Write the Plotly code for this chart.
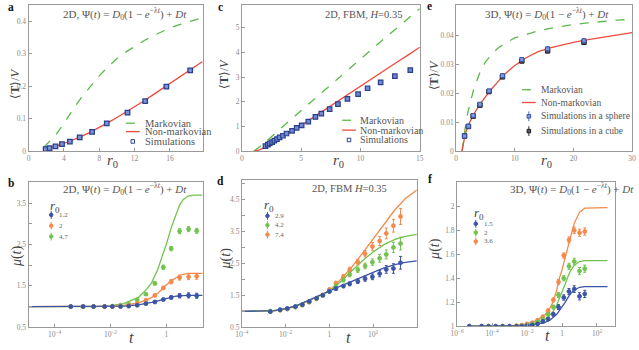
import plotly.graph_objects as go

W, H = 639, 350

# ---------------- data ----------------
# panel a : 2D, Psi(t)=D0(1-e^{-lambda t})+Dt
a_r0_curve = [1.7, 2, 3, 4, 5, 6, 7, 8, 9, 10, 11, 12, 13, 14, 15, 16, 17, 18, 19, 19.7]
a_markov = [0.012, 0.02, 0.048, 0.085, 0.128, 0.166, 0.2, 0.232, 0.26, 0.285, 0.305, 0.323,
            0.339, 0.354, 0.367, 0.379, 0.389, 0.398, 0.405, 0.41]
a_nonmarkov = [0.005, 0.007, 0.015, 0.024, 0.034, 0.046, 0.059, 0.073, 0.088, 0.104, 0.12, 0.137,
               0.154, 0.172, 0.19, 0.208, 0.226, 0.244, 0.262, 0.276]
a_sim_r0 = [1.93, 2.37, 3.04, 3.78, 4.67, 5.78, 7.19, 8.85, 11.2, 13.2, 15.6, 18.3]
a_sim = [0.007, 0.010, 0.015, 0.022, 0.030, 0.043, 0.060, 0.086, 0.119, 0.154, 0.199, 0.249]
a_sim_err = [0.001, 0.001, 0.001, 0.0015, 0.002, 0.002, 0.002, 0.003, 0.004, 0.004, 0.005, 0.005]

# panel c : 2D FBM H=0.35
c_r0_curve = [1, 1.25, 1.5, 2, 2.5, 3, 4, 5, 6, 7, 8, 9, 10, 11, 12, 13, 14, 15]
c_markov = [0, 0.08, 0.18, 0.38, 0.6, 0.81, 1.23, 1.65, 2.07, 2.49, 2.91, 3.33, 3.74, 4.15,
            4.56, 4.96, 5.37, 5.77]
c_nonmarkov = [0, 0.02, 0.06, 0.19, 0.34, 0.5, 0.78, 1.05, 1.37, 1.68, 2.0, 2.31, 2.63, 2.95,
               3.26, 3.58, 3.89, 4.21]
c_sim_r0 = [1.99, 2.19, 2.35, 2.55, 2.74, 2.96, 3.18, 3.46, 3.76, 4.23, 4.62, 5.04, 5.6, 6.2,
            6.7, 7.4, 8.1, 8.9, 9.8, 10.6, 11.7, 12.9, 14.2]
c_sim = [0.21, 0.27, 0.32, 0.37, 0.43, 0.49, 0.56, 0.63, 0.72, 0.83, 0.95, 1.05, 1.2, 1.39,
         1.52, 1.71, 1.91, 2.12, 2.31, 2.55, 2.79, 3.04, 3.28]

# panel e : 3D
e_r0_curve = [1, 1.25, 1.5, 2, 2.5, 3, 4, 5, 6, 7, 8, 9, 10, 12, 14, 16, 18, 20, 22, 24, 26, 28, 30]
e_markov = [0, 0.004, 0.0075, 0.0135, 0.018, 0.0215, 0.027, 0.031, 0.0334, 0.0355, 0.037,
            0.0383, 0.0393, 0.0405, 0.0417, 0.0426, 0.0433, 0.0439, 0.0444, 0.0448, 0.0452,
            0.0455, 0.0457]
e_nonmarkov = [0, 0.003, 0.0055, 0.0088, 0.011, 0.0128, 0.0162, 0.019, 0.0215, 0.0238, 0.0262,
               0.028, 0.0297, 0.0325, 0.0345, 0.0358, 0.0368, 0.0377, 0.0385, 0.0392, 0.0398,
               0.0405, 0.0411]
e_sim_r0 = [1.44, 2.1, 2.9, 4.06, 5.6, 7.9, 11.2, 15.6, 21.8]
e_sphere = [0.0053, 0.0087, 0.0124, 0.0163, 0.0209, 0.0262, 0.0318, 0.0355, 0.0383]
e_sphere_err = [0.0002, 0.0003, 0.0004, 0.0005, 0.0005, 0.0006, 0.0006, 0.0007, 0.0007]
e_cube = [0.0053, 0.0086, 0.0122, 0.0160, 0.0207, 0.0258, 0.0313, 0.0348, 0.0378]
e_cube_err = [0.0002, 0.0003, 0.0004, 0.0005, 0.0005, 0.0006, 0.0006, 0.0007, 0.0007]

# panel b : mu(t), 2D
b_t_curve = [1e-5, 1e-3, 3e-3, 1e-2, 3e-2, 0.1, 0.2, 0.3, 0.5, 0.7, 1, 1.5, 2, 3, 4, 6, 10, 20]
b_curve_12 = [1, 1, 1, 1.003, 1.01, 1.04, 1.07, 1.1, 1.14, 1.17, 1.2, 1.23, 1.245, 1.26, 1.27,
              1.272, 1.272, 1.272]
b_curve_2 = [1, 1, 1, 1.01, 1.03, 1.09, 1.16, 1.22, 1.32, 1.42, 1.52, 1.62, 1.68, 1.75, 1.78,
             1.8, 1.8, 1.8]
b_curve_47 = [1, 1, 1, 1.02, 1.07, 1.22, 1.42, 1.58, 1.9, 2.2, 2.5, 2.9, 3.15, 3.45, 3.58,
              3.67, 3.69, 3.69]
b_t_sim = [3.8e-4, 1.05e-3, 2.5e-3, 6.2e-3, 1.17e-2, 2.3e-2, 4.5e-2, 9.1e-2, 0.186, 0.39,
           0.785, 1.5, 3.0, 6.3, 12.3]
b_sim_12 = [1, 1, 1, 1, 1, 1.0, 1.01, 1.03, 1.07, 1.11, 1.17, 1.22, 1.26, 1.27, 1.26]
b_sim_2 = [1, 1, 1, 1, 1, 1.01, 1.03, 1.07, 1.15, 1.27, 1.45, 1.6, 1.7, 1.72, 1.73]
b_sim_47 = [1, 1, 1, 1, 1.01, 1.03, 1.06, 1.16, 1.3, 1.56, 1.95, 2.4, 2.82, 2.87, 2.83]
b_err_12 = [0.01, 0.01, 0.01, 0.01, 0.01, 0.01, 0.01, 0.02, 0.02, 0.03, 0.03, 0.04, 0.05, 0.06, 0.06]
b_err_2 = [0.01, 0.01, 0.01, 0.01, 0.01, 0.01, 0.02, 0.02, 0.03, 0.03, 0.04, 0.05, 0.06, 0.07, 0.07]
b_err_47 = [0.01, 0.01, 0.01, 0.01, 0.02, 0.02, 0.02, 0.03, 0.03, 0.04, 0.05, 0.05, 0.06, 0.06, 0.06]

# panel d : mu(t), 2D FBM
d_t_curve = [1e-4, 1e-3, 3e-3, 1e-2, 3e-2, 0.1, 0.3, 1, 3, 10, 30, 100, 300, 1000, 3000, 1e4]
d_curve_29 = [1, 1.0, 1.02, 1.08, 1.17, 1.33, 1.48, 1.63, 1.78, 1.93, 2.08, 2.22, 2.35, 2.46, 2.53, 2.58]
d_curve_42 = [1, 1.0, 1.02, 1.08, 1.17, 1.33, 1.48, 1.63, 1.9, 2.24, 2.56, 2.86, 3.08, 3.25, 3.35, 3.41]
d_curve_74 = [1, 1.0, 1.015, 1.07, 1.16, 1.31, 1.47, 1.63, 1.97, 2.36, 2.78, 3.27, 3.73, 4.18, 4.53, 4.8]
d_t_sim = [2e-3, 5.6e-3, 1.2e-2, 2.8e-2, 5.8e-2, 0.12, 0.26, 0.5, 1, 2, 4.4, 8.5, 20, 43, 93,
           200, 400, 850, 1800]
d_sim_29 = [0.99, 1.05, 1.09, 1.15, 1.21, 1.31, 1.41, 1.5, 1.62, 1.71, 1.79, 1.86, 1.94, 2.02,
            2.08, 2.18, 2.31, 2.34, 2.52]
d_sim_42 = [1.0, 1.04, 1.08, 1.14, 1.2, 1.3, 1.4, 1.5, 1.63, 1.79, 1.98, 2.15, 2.3, 2.42, 2.54,
            2.66, 2.78, 3.0, 3.12]
d_sim_74 = [1.0, 1.03, 1.07, 1.13, 1.19, 1.28, 1.39, 1.51, 1.68, 1.88, 2.08, 2.3, 2.54, 2.8,
            3.03, 3.2, 3.44, 3.68, 3.97]
d_err_29 = [0.02, 0.02, 0.02, 0.03, 0.03, 0.03, 0.03, 0.04, 0.04, 0.05, 0.05, 0.06, 0.07, 0.08,
            0.09, 0.1, 0.12, 0.15, 0.2]
d_err_42 = [0.02, 0.02, 0.02, 0.03, 0.03, 0.03, 0.03, 0.04, 0.04, 0.05, 0.06, 0.07, 0.08, 0.09,
            0.1, 0.12, 0.14, 0.16, 0.2]
d_err_74 = [0.02, 0.02, 0.02, 0.03, 0.03, 0.03, 0.03, 0.04, 0.05, 0.06, 0.07, 0.08, 0.09, 0.1,
            0.12, 0.14, 0.17, 0.2, 0.25]

# panel f : mu(t), 3D
f_t_curve = [5e-6, 1e-3, 1e-2, 3e-2, 0.1, 0.2, 0.3, 0.5, 0.7, 1, 1.5, 2, 3, 5, 10, 20, 400]
f_curve_15 = [1, 1, 1.005, 1.015, 1.03, 1.05, 1.07, 1.1, 1.13, 1.16, 1.2, 1.23, 1.27, 1.3,
              1.325, 1.33, 1.33]
f_curve_2 = [1, 1, 1.01, 1.025, 1.05, 1.09, 1.12, 1.18, 1.23, 1.28, 1.35, 1.4, 1.46, 1.51,
             1.54, 1.547, 1.547]
f_curve_36 = [1, 1, 1.02, 1.045, 1.09, 1.15, 1.2, 1.3, 1.4, 1.47, 1.57, 1.64, 1.75, 1.86,
              1.95, 1.985, 1.99]
f_t_sim = [5e-6, 2.5e-5, 6.3e-5, 1.6e-4, 4e-4, 1e-3, 2.5e-3, 5e-3, 1e-2, 2e-2, 4e-2, 8e-2,
           0.16, 0.32, 0.63, 1.26, 2.5, 5, 10, 20]
f_sim_15 = [1, 1, 1, 1, 1, 1, 1, 1, 1.005, 1.01, 1.02, 1.04, 1.06, 1.1, 1.16, 1.24, 1.29,
            1.31, 1.25, 1.27]
f_sim_2 = [1, 1, 1, 1, 1, 1, 1, 1.005, 1.01, 1.02, 1.035, 1.06, 1.1, 1.16, 1.26, 1.4, 1.5,
           1.54, 1.46, 1.48]
f_sim_36 = [1, 1, 1, 1, 1, 1, 1.005, 1.01, 1.02, 1.03, 1.05, 1.08, 1.13, 1.22, 1.37, 1.59,
            1.72, 1.8, 1.78, 1.79]
f_err = [0.005, 0.005, 0.005, 0.005, 0.005, 0.005, 0.005, 0.006, 0.007, 0.008, 0.01, 0.012,
         0.014, 0.016, 0.02, 0.022, 0.025, 0.028, 0.03, 0.03]

# ---------------- style ----------------
BLUE = '#3b54a5'
ORANGE = '#f4894a'
GREEN = '#72c24e'
MGREEN = '#5cb84a'
RED = '#ea4b3c'
GRAY = '#8a8a8a'
SERIF = 'Liberation Serif, Times New Roman, Tinos, serif'


def px(x):
    return x / W


def py(y):
    return 1 - y / H


fig = go.Figure()


def line(x, y, ax, color, dash='solid', width=1.3):
    fig.add_trace(go.Scatter(x=x, y=y, mode='lines', xaxis='x' + ax, yaxis='y' + ax,
                             line=dict(color=color, width=width, dash=dash),
                             showlegend=False, hoverinfo='skip'))


def pts(x, y, err, ax, color, symbol='circle', size=4, fill=None, lc=None, lw=0.8):
    fig.add_trace(go.Scatter(x=x, y=y, mode='markers', xaxis='x' + ax, yaxis='y' + ax,
                             marker=dict(symbol=symbol, size=size, color=fill or color,
                                         line=dict(color=lc or color, width=lw)),
                             error_y=dict(type='data', array=err, color=color,
                                          thickness=1, width=1.5),
                             showlegend=False, hoverinfo='skip'))


# a
line(a_r0_curve, a_markov, '', MGREEN, 'dash')
line(a_r0_curve, a_nonmarkov, '', RED)
pts(a_sim_r0, a_sim, a_sim_err, '', BLUE, 'square', 4.5, '#7c93d6', '#2c3f8a', 1.3)
# c
line(c_r0_curve, c_markov, '2', MGREEN, 'dash')
line(c_r0_curve, c_nonmarkov, '2', RED)
pts(c_sim_r0, c_sim, [0.01] * len(c_sim), '2', BLUE, 'square', 4.5, '#6f88d0', '#2c3f8a', 1.2)
# e
line(e_r0_curve, e_markov, '3', MGREEN, 'dash')
line(e_r0_curve, e_nonmarkov, '3', RED)
pts(e_sim_r0, e_cube, e_cube_err, '3', '#333333', 'square', 4.5, '#555555', '#222222', 1)
pts(e_sim_r0, e_sphere, e_sphere_err, '3', '#4a6cc8', 'square', 4, '#7f9be0', '#3b54a5', 1)
# b
line(b_t_curve, b_curve_47, '4', GREEN)
line(b_t_curve, b_curve_2, '4', ORANGE)
line(b_t_curve, b_curve_12, '4', BLUE)
pts(b_t_sim, b_sim_47, b_err_47, '4', GREEN)
pts(b_t_sim, b_sim_2, b_err_2, '4', ORANGE)
pts(b_t_sim, b_sim_12, b_err_12, '4', BLUE)
# d
line(d_t_curve, d_curve_74, '5', ORANGE)
line(d_t_curve, d_curve_42, '5', GREEN)
line(d_t_curve, d_curve_29, '5', BLUE)
pts(d_t_sim, d_sim_74, d_err_74, '5', ORANGE)
pts(d_t_sim, d_sim_42, d_err_42, '5', GREEN)
pts(d_t_sim, d_sim_29, d_err_29, '5', BLUE)
# f
line(f_t_curve, f_curve_36, '6', ORANGE)
line(f_t_curve, f_curve_2, '6', GREEN)
line(f_t_curve, f_curve_15, '6', BLUE)
pts(f_t_sim, f_sim_36, f_err, '6', ORANGE)
pts(f_t_sim, f_sim_2, f_err, '6', GREEN)
pts(f_t_sim, f_sim_15, f_err, '6', BLUE)

tickfont = dict(family=SERIF, size=7.5, color=GRAY)


def axis(x0, x1, y0, y1, anchor, rng, tickvals, ticktext, log=False, is_x=True):
    d = dict(range=rng, tickvals=tickvals, ticktext=ticktext, showline=True, mirror=True,
             linecolor='#9a9a9a', linewidth=1, ticks='inside', ticklen=3, tickcolor='#9a9a9a',
             showgrid=False, zeroline=False, tickfont=tickfont, anchor=anchor)
    if is_x:
        d['domain'] = [px(x0), px(x1)]
    else:
        d['domain'] = [py(y1), py(y0)]
    if log:
        d['type'] = 'log'
    return d


def sup(n):
    return '10<sup>%s</sup>' % n


mu_b_vals = [0.5, 1, 1.5, 2, 2.5, 3, 3.5, 4]
mu_b_text = ['0.5', '', '1.5', '', '2.5', '', '3.5', '']
mu_d_vals = [0.5, 1, 1.5, 2, 2.5, 3, 3.5, 4, 4.5, 5]
mu_d_text = ['0.5', '', '1.5', '', '2.5', '', '3.5', '', '4.5', '']

TOP = (5, 153.5)
layout_axes = dict(
    xaxis=axis(22, 199, *TOP, 'y', [0, 19.7], [0, 4, 8, 12, 16], ['0', '4', '8', '12', '16']),
    yaxis=axis(22, 199, *TOP, 'x', [0, 0.45], [0, 0.1, 0.2, 0.3, 0.4],
               ['0', '0.1', '0.2', '0.3', '0.4'], is_x=False),
    xaxis2=axis(239, 420, *TOP, 'y2', [0, 15], [0, 5, 10, 15], ['0', '5', '10', '15']),
    yaxis2=axis(239, 420, *TOP, 'x2', [0, 5.92], [0, 1, 2, 3, 4, 5],
                ['0', '1', '2', '3', '4', '5'], is_x=False),
    xaxis3=axis(457, 636, *TOP, 'y3', [0, 30], [0, 10, 20, 30], ['0', '10', '20', '30']),
    yaxis3=axis(457, 636, *TOP, 'x3', [0, 0.0507], [0, 0.01, 0.02, 0.03, 0.04],
                ['0', '0.01', '0.02', '0.03', '0.04'], is_x=False),
    xaxis4=axis(22, 199, 185, 332, 'y4', [-4.93, 1.3], [1e-4, 1e-2, 1],
                [sup('−4'), sup('−2'), '1'], log=True),
    yaxis4=axis(22, 199, 185, 332, 'x4', [0.5, 4.0], mu_b_vals, mu_b_text, is_x=False),
    xaxis5=axis(239, 417, 183, 332, 'y5', [-4, 4], [1e-4, 1e-2, 1, 1e2],
                [sup('−4'), sup('−2'), '1', sup('2')], log=True),
    yaxis5=axis(239, 417, 183, 332, 'x5', [0.5, 5.1], mu_d_vals, mu_d_text, is_x=False),
    xaxis6=axis(458, 619, 185, 331, 'y6', [-6, 3.05], [1e-6, 1e-4, 1e-2, 1, 1e2],
                [sup('−6'), sup('−4'), sup('−2'), '1', sup('2')], log=True),
    yaxis6=axis(458, 619, 185, 331, 'x6', [1, 2.2], [1, 1.2, 1.4, 1.6, 1.8, 2.0],
                ['1', '1.2', '1.4', '1.6', '1.8', '2'], is_x=False),
)

ann = []


def text(t, x, y, size=9, color='#555555', xanchor='center', angle=0):
    ann.append(dict(text=t, x=px(x), y=py(y), xref='paper', yref='paper', showarrow=False,
                    xanchor=xanchor, yanchor='middle', textangle=angle,
                    font=dict(family=SERIF, size=size, color=color)))


shapes = []


def seg(x0, y0, x1, y1, color, dash='solid', width=1.3):
    shapes.append(dict(type='line', xref='paper', yref='paper', x0=px(x0), y0=py(y0),
                       x1=px(x1), y1=py(y1), line=dict(color=color, width=width, dash=dash)))


def dot(x, y, color, r=1.8, square=False, fill=None):
    shapes.append(dict(type='rect' if square else 'circle', xref='paper', yref='paper',
                       x0=px(x - r), x1=px(x + r), y0=py(y + r), y1=py(y - r),
                       line=dict(color=color, width=1), fillcolor=fill or color))


# panel letters
for L, x, y in [('a', 4, 7), ('c', 217, 7), ('e', 430, 6), ('b', 4, 186), ('d', 217, 184),
                ('f', 430, 182)]:
    text('<b>%s</b>' % L, x, y, 11.5, '#111111')

PSI2 = '2D, Ψ(<i>t</i>) = <i>D</i><sub>0</sub>(1 − <i>e</i><sup>−λ<i>t</i></sup>) + <i>Dt</i>'
PSI3 = '3D, Ψ(<i>t</i>) = <i>D</i><sub>0</sub>(1 − <i>e</i><sup>−λ<i>t</i></sup>) + <i>Dt</i>'
text(PSI2, 120, 14, 11)
text('2D, FBM, <i>H</i>=0.35', 363, 15, 10.5)
text(PSI3, 549, 14, 11)
text(PSI2, 120, 192, 11)
text('2D, FBM <i>H</i>=0.35', 348, 191, 10.5)
text(PSI3, 575, 192, 11)

# axis titles
TV = '⟨<b>T</b>⟩/<i>V</i>'
text(TV, 8, 85, 12, '#444444', angle=-90)
text(TV, 221, 75, 12, '#444444', angle=-90)
text(TV, 434, 77, 12, '#444444', angle=-90)
R0 = '<i>r</i><sub>0</sub>'
text(R0, 107, 163, 15, '#444444')
text(R0, 337, 163, 15, '#444444')
text(R0, 549, 163, 15, '#444444')
MU = '<i>μ</i>(<i>t</i>)'
text(MU, 10, 260, 14, '#444444', angle=-90)
text(MU, 223, 262, 14, '#444444', angle=-90)
text(MU, 436, 252, 14, '#444444', angle=-90)
text('<i>t</i>', 127, 342, 16, '#444444')
text('<i>t</i>', 347, 342, 16, '#444444')
text('<i>t</i>', 550, 340, 16, '#444444')

# legends a, c, e
for (lx, tx, ys, fs) in [(121, 138, (125, 133.5, 143.5), 10.5), (341, 357, (122, 132, 142), 10)]:
    seg(lx, ys[0], lx + 14, ys[0], MGREEN, 'dash')
    seg(lx, ys[1], lx + 14, ys[1], RED)
    dot(lx + 7, ys[2], '#2c3f8a', 1.8, True, 'rgba(0,0,0,0)')
    text('Markovian', tx, ys[0], fs, '#555555', 'left')
    text('Non-markovian', tx, ys[1], fs, '#555555', 'left')
    text('Simulations', tx, ys[2], fs, '#555555', 'left')

seg(524, 91, 538, 91, MGREEN, 'dash')
seg(524, 104, 538, 104, RED)
seg(531, 113, 531, 123, '#4a6cc8', width=1)
dot(531, 118, '#3b54a5', 1.8, True, '#7f9be0')
seg(531, 128, 531, 138, '#333333', width=1)
dot(531, 133, '#222222', 1.8, True, '#555555')
text('Markovian', 541, 91, 9.5, '#555555', 'left')
text('Non-markovian', 541, 104, 9.5, '#555555', 'left')
text('Simulations in a sphere', 541, 118, 9.5, '#555555', 'left')
text('Simulations in a cube', 541, 133, 9.5, '#555555', 'left')

# r0 legends b, d, f
for (tx0, ty0, mx, items) in [
        (49, 209, 45, [('1.2', BLUE, 218), ('2', ORANGE, 229), ('4.7', GREEN, 240)]),
        (267, 208, 265, [('2.9', BLUE, 219), ('4.2', GREEN, 228.5), ('7.4', ORANGE, 238)]),
        (480, 217, 477, [('1.5', BLUE, 227), ('2', GREEN, 236), ('3.6', ORANGE, 245)])]:
    text(R0, tx0, ty0, 13, '#444444')
    for lab, col, yy in items:
        seg(mx, yy - 4, mx, yy + 4, col, width=1)
        dot(mx, yy, col, 1.8)
        text(lab, mx + 6, yy, 7, '#666666', 'left')

fig.update_layout(width=W, height=H, margin=dict(l=0, r=0, t=0, b=0),
                  paper_bgcolor='white', plot_bgcolor='white', showlegend=False,
                  annotations=ann, shapes=shapes, **layout_axes)

fig.write_html('out.html')
